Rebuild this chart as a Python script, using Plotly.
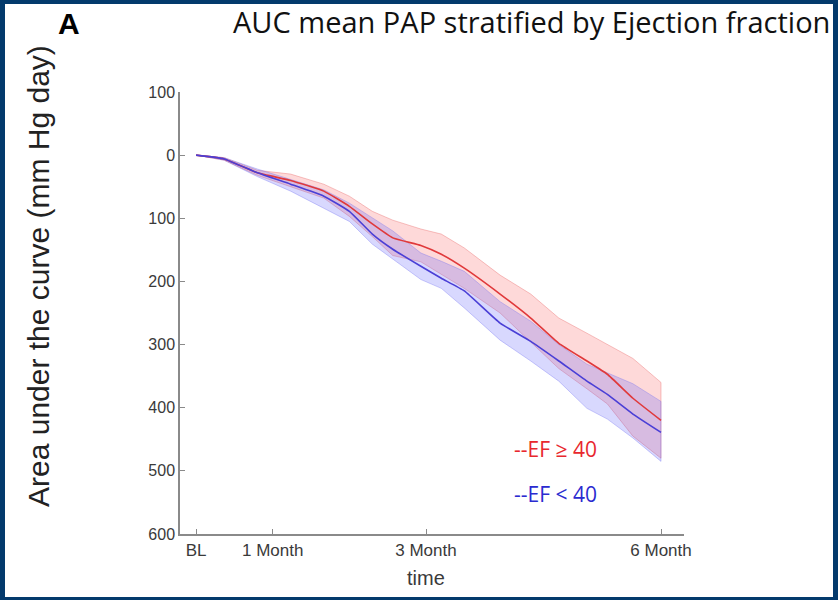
import plotly.graph_objects as go

# ---- data (days from baseline; AUC values) ----
days = [0, 11, 24, 37, 50, 60, 69, 77, 88, 96, 105, 119, 131, 142, 153, 161, 171, 182]
ef_hi_mean = [0, -6, -28, -40, -57, -81, -109, -131, -143, -157, -179, -220, -258, -298, -326, -347, -385, -420]
ef_hi_upper = [0, -4, -24, -30, -46, -65, -89, -103, -117, -125, -147, -190, -220, -258, -282, -300, -322, -360]
ef_hi_lower = [0, -8, -32, -50, -68, -97, -129, -159, -169, -189, -211, -250, -296, -338, -370, -394, -445, -480]
ef_lo_mean = [0, -6, -28, -46, -65, -89, -125, -149, -176, -195, -215, -266, -295, -326, -358, -379, -410, -439]
ef_lo_upper = [0, -4, -22, -38, -55, -76, -100, -120, -155, -168, -184, -232, -263, -300, -331, -345, -362, -390]
ef_lo_lower = [0, -8, -34, -57, -84, -105, -141, -165, -197, -211, -242, -293, -326, -358, -401, -418, -448, -485]

x_tickvals = [0, 30, 90, 182]
x_ticktext = ["BL", "1 Month", "3 Month", "6 Month"]
y_tickvals = [100, 0, -100, -200, -300, -400, -500, -600]
y_ticktext = ["100", "0", "100", "200", "300", "400", "500", "600"]

W, H = 838, 600
L, R, T, B = 180, 684, 92, 534  # plot area pixel box


def px(xp):
    return (xp - L) / (R - L)


def py(yp):
    return (B - yp) / (B - T)


fig = go.Figure()

def band(upper, lower, fill, edge):
    fig.add_trace(go.Scatter(
        x=days + days[::-1], y=upper + lower[::-1],
        fill="toself", fillcolor=fill, mode="lines",
        line=dict(color=edge, width=1), hoverinfo="skip", showlegend=False))

band(ef_hi_upper, ef_hi_lower, "rgba(250,80,80,0.22)", "rgba(230,90,90,0.35)")
band(ef_lo_upper, ef_lo_lower, "rgba(90,90,250,0.24)", "rgba(110,110,240,0.35)")

fig.add_trace(go.Scatter(x=days, y=ef_hi_mean, mode="lines",
                         line=dict(color="#e0393b", width=1.6, shape="spline", smoothing=0.4),
                         showlegend=False))
fig.add_trace(go.Scatter(x=days, y=ef_lo_mean, mode="lines",
                         line=dict(color="#4a3fd6", width=1.6, shape="spline", smoothing=0.4),
                         showlegend=False))

axis_common = dict(showline=True, linecolor="#8a8a8a", linewidth=1.5,
                   ticks="inside", ticklen=5, tickcolor="#8a8a8a", tickwidth=1,
                   showgrid=False, zeroline=False)

fig.update_xaxes(range=[-6.3, 191], tickvals=x_tickvals, ticktext=x_ticktext,
                 tickfont=dict(family="Liberation Sans", size=17, color="#3a3a3a"),
                 **axis_common)
fig.update_yaxes(range=[-600, 100], tickvals=y_tickvals, ticktext=y_ticktext,
                 tickfont=dict(family="Liberation Sans", size=16, color="#3a3a3a"),
                 **axis_common)

fig.add_shape(type="rect", xref="paper", yref="paper",
              x0=px(5), x1=px(833), y0=py(597), y1=py(4),
              fillcolor="white", line=dict(width=0), layer="below")

P = dict(xref="paper", yref="paper", showarrow=False)
ann = []
ann.append(dict(text="AUC mean PAP stratified by Ejection fraction", x=px(231), y=py(22),
                xanchor="left", yanchor="middle",
                font=dict(family="Open Sans", size=29, color="#111111"), **P))
ann.append(dict(text="<b>A</b>", x=px(56), y=py(23), xanchor="left", yanchor="middle",
                font=dict(family="Liberation Sans", size=30, color="#000000"), **P))
ann.append(dict(text="Area under the curve (mm Hg day)", x=px(38), y=py(276),
                xanchor="center", yanchor="middle", textangle=-90,
                font=dict(family="Liberation Sans", size=30, color="#222222"), **P))
ann.append(dict(text="time", x=px(426), y=py(578), xanchor="center", yanchor="middle",
                font=dict(family="Liberation Sans", size=20, color="#3a3a3a"), **P))
ann.append(dict(text="--EF \u2265 40", x=px(512), y=py(449), xanchor="left", yanchor="middle",
                font=dict(family="Open Sans", size=21, color="#e8282e"), **P))
ann.append(dict(text="--EF &lt; 40", x=px(512), y=py(494), xanchor="left", yanchor="middle",
                font=dict(family="Open Sans", size=21, color="#2b2bd0"), **P))

fig.update_layout(width=W, height=H,
                  margin=dict(l=L, r=W - R, t=T, b=H - B, pad=0),
                  paper_bgcolor="#033a6c", plot_bgcolor="white",
                  annotations=ann, showlegend=False)

fig.write_html("out.html")
